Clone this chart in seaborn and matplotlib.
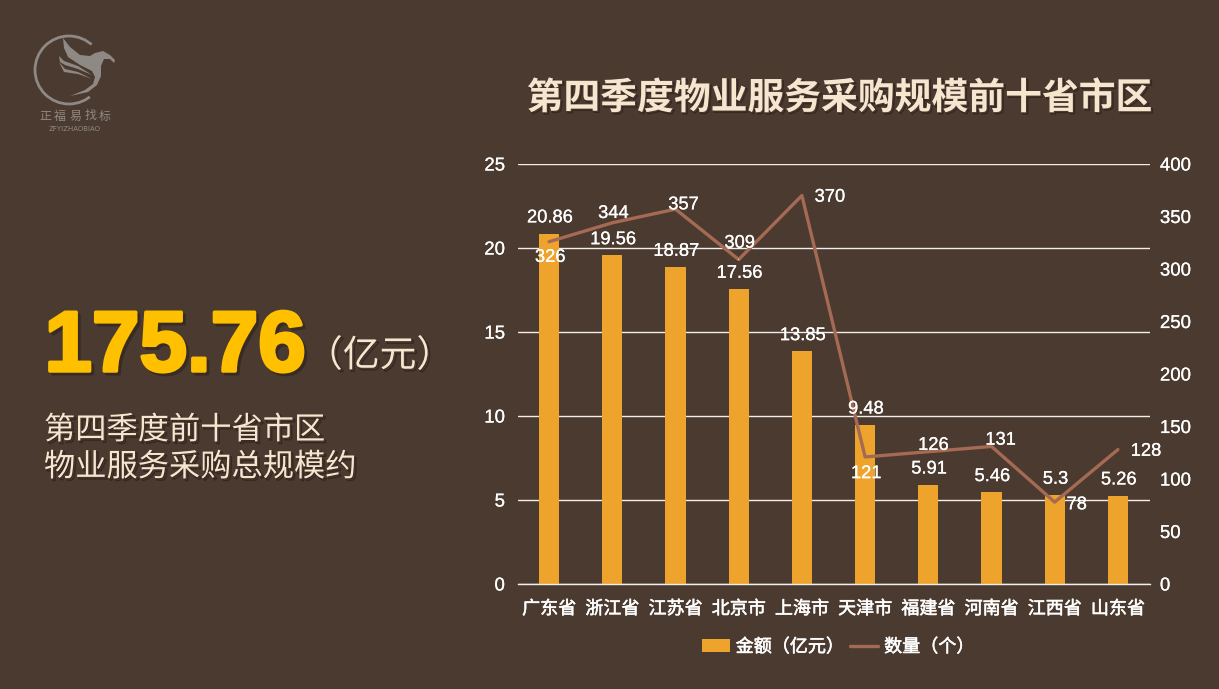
import matplotlib
matplotlib.use("Agg")
import matplotlib.pyplot as plt
import matplotlib.patheffects as pe
from matplotlib.patches import Ellipse, Polygon, Patch
from matplotlib.lines import Line2D
import seaborn as sns
import pandas as pd

regions = ["广东省", "浙江省", "江苏省", "北京市", "上海市", "天津市", "福建省", "河南省", "江西省", "山东省"]
amounts = [20.86, 19.56, 18.87, 17.56, 13.85, 9.48, 5.91, 5.46, 5.3, 5.26]
counts = [326, 344, 357, 309, 370, 121, 126, 131, 78, 128]
amount_labels = ["20.86", "19.56", "18.87", "17.56", "13.85", "9.48", "5.91", "5.46", "5.3", "5.26"]
count_label_offsets = [(1, -14), (1, 11), (8, 6), (1, 18), (28, 0), (1, -15), (5, 8), (9, 8), (22, -1), (28, 0)]
left_ticks = [0, 5, 10, 15, 20, 25]
right_ticks = [0, 50, 100, 150, 200, 250, 300, 350, 400]
title = "第四季度物业服务采购规模前十省市区"
total = "175.76"
unit = "（亿元）"
desc = ["第四季度前十省市区", "物业服务采购总规模约"]
legend_names = ["金额（亿元）", "数量（个）"]
logo_chars = "正福易找标"

BG = "#4B3A30"
BAR = "#EEA32D"
LINE = "#A56A53"
WHITE = "#FFFFFF"
CREAM = "#F6E6CF"
GOLD = "#FFC000"
LOGO = "#8F8985"

W, H = 1219, 689
sns.set_theme(style="white")
plt.rcParams["font.family"] = ["Liberation Sans", "Noto Sans CJK SC", "DejaVu Sans"]
CJK = ["Noto Sans CJK SC", "DejaVu Sans"]
thick = [pe.withStroke(linewidth=0.4, foreground=WHITE)]
thin = [pe.withStroke(linewidth=0.15, foreground=WHITE)]

fig = plt.figure(figsize=(W / 100, H / 100), dpi=100, facecolor=BG)
ax = fig.add_axes([517.5 / W, 1 - 584 / H, (1150 - 518) / W, (584 - 164) / H], facecolor="none")

df = pd.DataFrame({"region": regions, "amount": amounts, "count": counts})
sns.barplot(data=df, x="region", y="amount", color=BAR, saturation=1, width=0.32, ax=ax, zorder=2,
            edgecolor="none", linewidth=0)
ax.set_xlim(-0.5, 9.5)
ax.set_ylim(0, 25)
ax.set_yticks(left_ticks)
ax.set_xlabel("")
ax.set_ylabel("")
ax.grid(axis="y", color="#F2EEE9", lw=1, zorder=0)
ax.set_axisbelow(True)
for s in ax.spines.values():
    s.set_visible(False)
ax.spines["bottom"].set_visible(True)
ax.spines["bottom"].set_color("#F2EEE9")
ax.spines["bottom"].set_linewidth(1)
ax.tick_params(length=0)
ax.tick_params(axis="y", labelsize=13.4, labelcolor=WHITE, pad=9)
ax.tick_params(axis="x", pad=11.5)
for t in ax.get_xticklabels():
    t.set_fontfamily(CJK)
    t.set_fontsize(13)
    t.set_color(WHITE)
    t.set_path_effects(thick)
for t in ax.get_yticklabels():
    t.set_path_effects(thin)

ax2 = ax.twinx()
ax2.set_facecolor("none")
sns.lineplot(data=df, x="region", y="count", color=LINE, lw=2.4, ax=ax2, zorder=3, errorbar=None, sort=False)
ax2.set_xlim(-0.5, 9.5)
ax2.set_ylim(0, 400)
ax2.set_yticks(right_ticks)
ax2.set_xlabel("")
ax2.set_ylabel("")
ax2.grid(False)
for s in ax2.spines.values():
    s.set_visible(False)
ax2.tick_params(length=0)
ax2.tick_params(axis="y", labelsize=13.4, labelcolor=WHITE, pad=7.5)
for t in ax2.get_yticklabels():
    t.set_path_effects(thin)

for i, (v, lab) in enumerate(zip(amounts, amount_labels)):
    ax2.annotate(lab, (i, v), xycoords=ax.transData, xytext=(0.5, 11.3), textcoords="offset points",
                 ha="center", va="center", fontsize=13.2, color=WHITE, zorder=6, annotation_clip=False,
                 path_effects=thin)
for i, (v, off) in enumerate(zip(counts, count_label_offsets)):
    arrow = dict(arrowstyle="-", color=WHITE, lw=0.7, shrinkA=3, shrinkB=1) if i == 3 else None
    ax2.annotate(str(v), (i, v), xytext=(off[0] * 0.72, off[1] * 0.72 - 1.2), textcoords="offset points",
                 ha="center", va="center", fontsize=13.2, color=WHITE, zorder=6, annotation_clip=False,
                 arrowprops=arrow, path_effects=thin)

handles = [Patch(facecolor=BAR, edgecolor="none"), Line2D([0], [0], color=LINE, lw=2.4)]
leg = ax.legend(handles, legend_names, loc="center", bbox_to_anchor=(0.507, -0.15), ncol=2, frameon=False,
                handlelength=1.55, handleheight=0.7, columnspacing=0.36, handletextpad=0.33,
                prop={"family": CJK, "size": 13})
for t in leg.get_texts():
    t.set_color(WHITE)
    t.set_path_effects(thick)

# page layer in pixel coordinates
pg = fig.add_axes([0, 0, 1, 1], facecolor="none")
pg.set_xlim(0, W)
pg.set_ylim(H, 0)
pg.axis("off")


def soft(off=1.5, alpha=0.3):
    return [pe.SimpleLineShadow(offset=(off, -off), shadow_color="#000000", alpha=alpha, linewidth=1), pe.Normal()]


pg.text(839, 98.5, title, family=CJK, fontsize=26.5, fontweight="bold", color=CREAM, ha="center", va="center",
        path_effects=soft(1.2, 0.3))
pg.text(44.5, 349, total, fontsize=61.5, fontweight="bold", color=GOLD, ha="left", va="center",
        path_effects=[pe.SimpleLineShadow(offset=(2, -2), shadow_color="#000000", alpha=0.25, linewidth=2.5),
                      pe.withStroke(linewidth=2.5, foreground=GOLD)])
pg.text(306, 356, unit, family=CJK, fontsize=26.5, color=CREAM, ha="left", va="center", path_effects=soft())
pg.text(44, 430, desc[0], family=CJK, fontsize=22.5, color=CREAM, ha="left", va="center", path_effects=soft())
pg.text(44, 467, desc[1], family=CJK, fontsize=22.5, color=CREAM, ha="left", va="center", path_effects=soft())

# logo
pg.add_patch(Ellipse((69, 70), 68, 68, fill=False, ec=LOGO, lw=2))
pg.add_patch(Polygon([(69, 70), (117, 16), (125, 16), (125, 106), (97, 106)], closed=True, fc=BG, ec="none"))
pg.add_patch(Polygon([(63, 38), (70, 47), (80, 55), (90, 56), (95, 53), (103, 51), (110, 55), (115, 60), (114, 63),
                      (110, 59), (104, 59), (101, 66), (101, 76), (97, 85), (88, 92), (70, 96), (85, 90), (93, 84),
                      (95, 77), (92, 71), (80, 65), (68, 57), (64, 48)], closed=True, fc=LOGO, ec="none"))
pg.add_patch(Polygon([(59, 56), (64, 61), (78, 66), (92, 75), (78, 69), (65, 65), (60, 62)], closed=True, fc=LOGO, ec="none"))
pg.add_patch(Polygon([(59, 62), (65, 69), (78, 72), (92, 79), (78, 74), (64, 72)], closed=True, fc=LOGO, ec="none"))
for i, ch in enumerate(logo_chars):
    pg.text(45 + i * 15, 116, ch, family=CJK, fontsize=8.6, color=LOGO, ha="center", va="center")
pg.text(74.5, 129, "ZFYIZHAOBIAO", family="DejaVu Sans", fontsize=5.0, color=LOGO, ha="center", va="center")

fig.savefig("out.png", dpi=100, facecolor=BG)
